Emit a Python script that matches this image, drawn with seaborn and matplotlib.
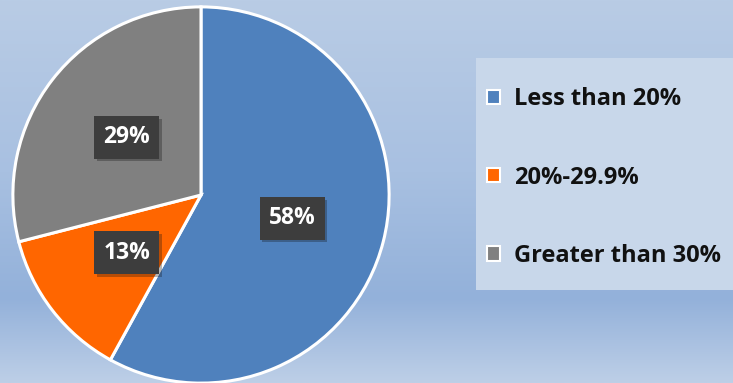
import numpy as np
import matplotlib.pyplot as plt
import seaborn as sns
from matplotlib.colors import LinearSegmentedColormap
from matplotlib.patches import Rectangle, Patch
import matplotlib.patheffects as pe

# data
labels = ["Less than 20%", "20%-29.9%", "Greater than 30%"]
values = [58, 13, 29]
colors = ["#4f81bd", "#ff6600", "#808080"]

sns.set_theme(style="white")
plt.rcParams["font.family"] = ["Open Sans", "DejaVu Sans"]

W, H = 733, 383
fig = plt.figure(figsize=(W / 100, H / 100), dpi=100)

# background gradient
bg = fig.add_axes([0, 0, 1, 1])
grad_cmap = LinearSegmentedColormap.from_list(
    "bg",
    [(0.0, "#b9cce5"), (0.45, "#a8c0e1"), (0.78, "#93b1da"), (1.0, "#bdcfe7")],
)
grad = np.linspace(0, 1, 256).reshape(-1, 1)
bg.imshow(grad, aspect="auto", cmap=grad_cmap, extent=[0, 1, 0, 1], origin="upper")
bg.set_xlim(0, 1)
bg.set_ylim(0, 1)
bg.axis("off")

# legend box
bg.add_patch(Rectangle((476 / W, 1 - 290 / H), (W - 476) / W, 232 / H,
                       facecolor="#c8d7ea", edgecolor="none"))

# pie
cx, cy, r = 201, 195, 190
ax = fig.add_axes([(cx - r) / W, (H - cy - r) / H, 2 * r / W, 2 * r / H])
wedges, texts, autotexts = ax.pie(
    values,
    colors=colors,
    startangle=90,
    counterclock=False,
    autopct="%d%%",
    pctdistance=0.5,
    wedgeprops=dict(edgecolor="white", linewidth=2.2),
    textprops=dict(color="white", fontsize=16.5, fontweight="bold"),
)
for t in autotexts:
    t.set_bbox(dict(boxstyle="square,pad=0.4", facecolor="#3d3d3d", edgecolor="none"))
    t.get_bbox_patch().set_path_effects(
        [pe.SimplePatchShadow(offset=(2, -2), alpha=0.3), pe.Normal()]
    )
ax.set_aspect("equal")
ax.set_xlim(-1.01, 1.01)
ax.set_ylim(-1.01, 1.01)

# legend
handles = [Patch(facecolor=c, edgecolor="white", linewidth=1.5) for c in colors]
fig.legend(
    handles,
    labels,
    loc="upper left",
    bbox_to_anchor=(466 / W, 1 - 66 / H),
    frameon=False,
    prop=dict(weight="bold", size=17),
    labelspacing=2.3,
    handlelength=0.55,
    handleheight=0.55,
    handletextpad=0.6,
    labelcolor="#111111",
)

fig.savefig("out.png", dpi=100)
